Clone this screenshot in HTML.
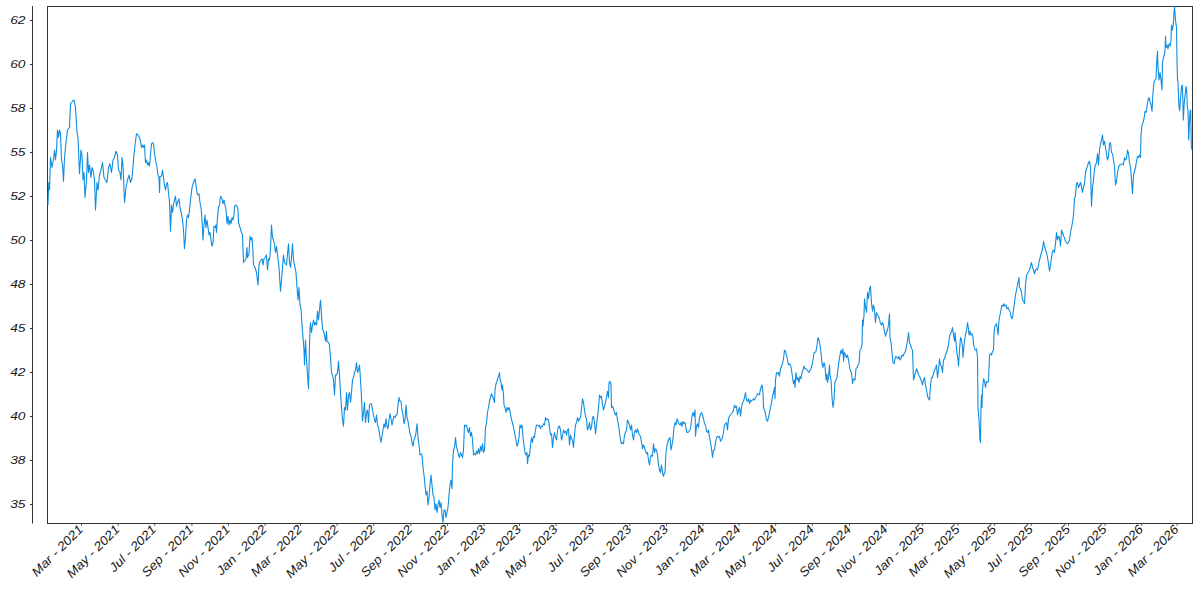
<!DOCTYPE html><html><head><meta charset="utf-8"><style>html,body{margin:0;padding:0;background:#fff;width:1200px;height:600px;overflow:hidden}svg{display:block}text{font-family:"Liberation Sans",sans-serif}</style></head><body><svg width="1200" height="600" viewBox="0 0 1200 600">
<rect width="1200" height="600" fill="#fff"/>
<line x1="32.5" y1="6" x2="32.5" y2="523.5" stroke="#333" stroke-width="1"/>
<rect x="47.5" y="6.5" width="1145" height="517" fill="none" stroke="#333" stroke-width="1"/>
<line x1="30" y1="20.499999999999943" x2="32" y2="20.499999999999943" stroke="#333" stroke-width="1"/>
<text transform="translate(25.5,23.799999999999944) scale(1.2,1)" text-anchor="end" font-style="italic" font-size="11.5" fill="#1a1a1a">62</text>
<line x1="30" y1="64.49999999999994" x2="32" y2="64.49999999999994" stroke="#333" stroke-width="1"/>
<text transform="translate(25.5,67.79999999999994) scale(1.2,1)" text-anchor="end" font-style="italic" font-size="11.5" fill="#1a1a1a">60</text>
<line x1="30" y1="108.49999999999994" x2="32" y2="108.49999999999994" stroke="#333" stroke-width="1"/>
<text transform="translate(25.5,111.79999999999994) scale(1.2,1)" text-anchor="end" font-style="italic" font-size="11.5" fill="#1a1a1a">58</text>
<line x1="30" y1="152.5" x2="32" y2="152.5" stroke="#333" stroke-width="1"/>
<text transform="translate(25.5,155.8) scale(1.2,1)" text-anchor="end" font-style="italic" font-size="11.5" fill="#1a1a1a">55</text>
<line x1="30" y1="196.5" x2="32" y2="196.5" stroke="#333" stroke-width="1"/>
<text transform="translate(25.5,199.8) scale(1.2,1)" text-anchor="end" font-style="italic" font-size="11.5" fill="#1a1a1a">52</text>
<line x1="30" y1="240.5" x2="32" y2="240.5" stroke="#333" stroke-width="1"/>
<text transform="translate(25.5,243.8) scale(1.2,1)" text-anchor="end" font-style="italic" font-size="11.5" fill="#1a1a1a">50</text>
<line x1="30" y1="284.5" x2="32" y2="284.5" stroke="#333" stroke-width="1"/>
<text transform="translate(25.5,287.8) scale(1.2,1)" text-anchor="end" font-style="italic" font-size="11.5" fill="#1a1a1a">48</text>
<line x1="30" y1="328.5" x2="32" y2="328.5" stroke="#333" stroke-width="1"/>
<text transform="translate(25.5,331.8) scale(1.2,1)" text-anchor="end" font-style="italic" font-size="11.5" fill="#1a1a1a">45</text>
<line x1="30" y1="372.5" x2="32" y2="372.5" stroke="#333" stroke-width="1"/>
<text transform="translate(25.5,375.8) scale(1.2,1)" text-anchor="end" font-style="italic" font-size="11.5" fill="#1a1a1a">42</text>
<line x1="30" y1="416.5" x2="32" y2="416.5" stroke="#333" stroke-width="1"/>
<text transform="translate(25.5,419.8) scale(1.2,1)" text-anchor="end" font-style="italic" font-size="11.5" fill="#1a1a1a">40</text>
<line x1="30" y1="460.5" x2="32" y2="460.5" stroke="#333" stroke-width="1"/>
<text transform="translate(25.5,463.8) scale(1.2,1)" text-anchor="end" font-style="italic" font-size="11.5" fill="#1a1a1a">38</text>
<line x1="30" y1="504.5" x2="32" y2="504.5" stroke="#333" stroke-width="1"/>
<text transform="translate(25.5,507.8) scale(1.2,1)" text-anchor="end" font-style="italic" font-size="11.5" fill="#1a1a1a">35</text>
<line x1="81.50" y1="524" x2="81.50" y2="526" stroke="#666" stroke-width="1"/>
<text transform="translate(83.80,530.2) rotate(-45) scale(1.1,1)" text-anchor="end" font-style="italic" font-size="12.5" fill="#1a1a1a">Mar - 2021</text>
<line x1="118.10" y1="524" x2="118.10" y2="526" stroke="#666" stroke-width="1"/>
<text transform="translate(120.40,530.2) rotate(-45) scale(1.1,1)" text-anchor="end" font-style="italic" font-size="12.5" fill="#1a1a1a">May - 2021</text>
<line x1="154.70" y1="524" x2="154.70" y2="526" stroke="#666" stroke-width="1"/>
<text transform="translate(157.00,530.2) rotate(-45) scale(1.1,1)" text-anchor="end" font-style="italic" font-size="12.5" fill="#1a1a1a">Jul - 2021</text>
<line x1="191.90" y1="524" x2="191.90" y2="526" stroke="#666" stroke-width="1"/>
<text transform="translate(194.20,530.2) rotate(-45) scale(1.1,1)" text-anchor="end" font-style="italic" font-size="12.5" fill="#1a1a1a">Sep - 2021</text>
<line x1="228.50" y1="524" x2="228.50" y2="526" stroke="#666" stroke-width="1"/>
<text transform="translate(230.80,530.2) rotate(-45) scale(1.1,1)" text-anchor="end" font-style="italic" font-size="12.5" fill="#1a1a1a">Nov - 2021</text>
<line x1="265.10" y1="524" x2="265.10" y2="526" stroke="#666" stroke-width="1"/>
<text transform="translate(267.40,530.2) rotate(-45) scale(1.1,1)" text-anchor="end" font-style="italic" font-size="12.5" fill="#1a1a1a">Jan - 2022</text>
<line x1="300.50" y1="524" x2="300.50" y2="526" stroke="#666" stroke-width="1"/>
<text transform="translate(302.80,530.2) rotate(-45) scale(1.1,1)" text-anchor="end" font-style="italic" font-size="12.5" fill="#1a1a1a">Mar - 2022</text>
<line x1="337.10" y1="524" x2="337.10" y2="526" stroke="#666" stroke-width="1"/>
<text transform="translate(339.40,530.2) rotate(-45) scale(1.1,1)" text-anchor="end" font-style="italic" font-size="12.5" fill="#1a1a1a">May - 2022</text>
<line x1="373.70" y1="524" x2="373.70" y2="526" stroke="#666" stroke-width="1"/>
<text transform="translate(376.00,530.2) rotate(-45) scale(1.1,1)" text-anchor="end" font-style="italic" font-size="12.5" fill="#1a1a1a">Jul - 2022</text>
<line x1="410.90" y1="524" x2="410.90" y2="526" stroke="#666" stroke-width="1"/>
<text transform="translate(413.20,530.2) rotate(-45) scale(1.1,1)" text-anchor="end" font-style="italic" font-size="12.5" fill="#1a1a1a">Sep - 2022</text>
<line x1="447.50" y1="524" x2="447.50" y2="526" stroke="#666" stroke-width="1"/>
<text transform="translate(449.80,530.2) rotate(-45) scale(1.1,1)" text-anchor="end" font-style="italic" font-size="12.5" fill="#1a1a1a">Nov - 2022</text>
<line x1="484.10" y1="524" x2="484.10" y2="526" stroke="#666" stroke-width="1"/>
<text transform="translate(486.40,530.2) rotate(-45) scale(1.1,1)" text-anchor="end" font-style="italic" font-size="12.5" fill="#1a1a1a">Jan - 2023</text>
<line x1="519.50" y1="524" x2="519.50" y2="526" stroke="#666" stroke-width="1"/>
<text transform="translate(521.80,530.2) rotate(-45) scale(1.1,1)" text-anchor="end" font-style="italic" font-size="12.5" fill="#1a1a1a">Mar - 2023</text>
<line x1="556.10" y1="524" x2="556.10" y2="526" stroke="#666" stroke-width="1"/>
<text transform="translate(558.40,530.2) rotate(-45) scale(1.1,1)" text-anchor="end" font-style="italic" font-size="12.5" fill="#1a1a1a">May - 2023</text>
<line x1="592.70" y1="524" x2="592.70" y2="526" stroke="#666" stroke-width="1"/>
<text transform="translate(595.00,530.2) rotate(-45) scale(1.1,1)" text-anchor="end" font-style="italic" font-size="12.5" fill="#1a1a1a">Jul - 2023</text>
<line x1="629.90" y1="524" x2="629.90" y2="526" stroke="#666" stroke-width="1"/>
<text transform="translate(632.20,530.2) rotate(-45) scale(1.1,1)" text-anchor="end" font-style="italic" font-size="12.5" fill="#1a1a1a">Sep - 2023</text>
<line x1="666.50" y1="524" x2="666.50" y2="526" stroke="#666" stroke-width="1"/>
<text transform="translate(668.80,530.2) rotate(-45) scale(1.1,1)" text-anchor="end" font-style="italic" font-size="12.5" fill="#1a1a1a">Nov - 2023</text>
<line x1="703.10" y1="524" x2="703.10" y2="526" stroke="#666" stroke-width="1"/>
<text transform="translate(705.40,530.2) rotate(-45) scale(1.1,1)" text-anchor="end" font-style="italic" font-size="12.5" fill="#1a1a1a">Jan - 2024</text>
<line x1="739.10" y1="524" x2="739.10" y2="526" stroke="#666" stroke-width="1"/>
<text transform="translate(741.40,530.2) rotate(-45) scale(1.1,1)" text-anchor="end" font-style="italic" font-size="12.5" fill="#1a1a1a">Mar - 2024</text>
<line x1="775.70" y1="524" x2="775.70" y2="526" stroke="#666" stroke-width="1"/>
<text transform="translate(778.00,530.2) rotate(-45) scale(1.1,1)" text-anchor="end" font-style="italic" font-size="12.5" fill="#1a1a1a">May - 2024</text>
<line x1="812.30" y1="524" x2="812.30" y2="526" stroke="#666" stroke-width="1"/>
<text transform="translate(814.60,530.2) rotate(-45) scale(1.1,1)" text-anchor="end" font-style="italic" font-size="12.5" fill="#1a1a1a">Jul - 2024</text>
<line x1="849.50" y1="524" x2="849.50" y2="526" stroke="#666" stroke-width="1"/>
<text transform="translate(851.80,530.2) rotate(-45) scale(1.1,1)" text-anchor="end" font-style="italic" font-size="12.5" fill="#1a1a1a">Sep - 2024</text>
<line x1="886.10" y1="524" x2="886.10" y2="526" stroke="#666" stroke-width="1"/>
<text transform="translate(888.40,530.2) rotate(-45) scale(1.1,1)" text-anchor="end" font-style="italic" font-size="12.5" fill="#1a1a1a">Nov - 2024</text>
<line x1="922.70" y1="524" x2="922.70" y2="526" stroke="#666" stroke-width="1"/>
<text transform="translate(925.00,530.2) rotate(-45) scale(1.1,1)" text-anchor="end" font-style="italic" font-size="12.5" fill="#1a1a1a">Jan - 2025</text>
<line x1="958.10" y1="524" x2="958.10" y2="526" stroke="#666" stroke-width="1"/>
<text transform="translate(960.40,530.2) rotate(-45) scale(1.1,1)" text-anchor="end" font-style="italic" font-size="12.5" fill="#1a1a1a">Mar - 2025</text>
<line x1="994.70" y1="524" x2="994.70" y2="526" stroke="#666" stroke-width="1"/>
<text transform="translate(997.00,530.2) rotate(-45) scale(1.1,1)" text-anchor="end" font-style="italic" font-size="12.5" fill="#1a1a1a">May - 2025</text>
<line x1="1031.30" y1="524" x2="1031.30" y2="526" stroke="#666" stroke-width="1"/>
<text transform="translate(1033.60,530.2) rotate(-45) scale(1.1,1)" text-anchor="end" font-style="italic" font-size="12.5" fill="#1a1a1a">Jul - 2025</text>
<line x1="1068.50" y1="524" x2="1068.50" y2="526" stroke="#666" stroke-width="1"/>
<text transform="translate(1070.80,530.2) rotate(-45) scale(1.1,1)" text-anchor="end" font-style="italic" font-size="12.5" fill="#1a1a1a">Sep - 2025</text>
<line x1="1105.10" y1="524" x2="1105.10" y2="526" stroke="#666" stroke-width="1"/>
<text transform="translate(1107.40,530.2) rotate(-45) scale(1.1,1)" text-anchor="end" font-style="italic" font-size="12.5" fill="#1a1a1a">Nov - 2025</text>
<line x1="1141.70" y1="524" x2="1141.70" y2="526" stroke="#666" stroke-width="1"/>
<text transform="translate(1144.00,530.2) rotate(-45) scale(1.1,1)" text-anchor="end" font-style="italic" font-size="12.5" fill="#1a1a1a">Jan - 2026</text>
<line x1="1177.10" y1="524" x2="1177.10" y2="526" stroke="#666" stroke-width="1"/>
<text transform="translate(1179.40,530.2) rotate(-45) scale(1.1,1)" text-anchor="end" font-style="italic" font-size="12.5" fill="#1a1a1a">Mar - 2026</text>
<polyline points="48.00,205.00 48.75,182.50 49.50,190.00 50.50,157.50 52.00,167.50 53.00,162.50 54.00,155.00 54.50,150.00 55.50,160.00 56.50,150.00 57.50,130.00 58.50,137.50 59.50,130.00 60.50,133.75 61.50,160.00 62.50,165.00 63.50,181.25 64.50,157.50 66.00,142.50 67.50,130.00 69.50,127.50 70.50,103.75 72.50,101.25 74.00,100.00 75.50,107.50 77.00,132.50 78.00,137.50 79.50,173.75 81.00,150.00 82.00,155.00 83.00,180.00 84.00,172.50 85.00,197.50 86.50,180.00 87.50,152.50 88.50,172.50 89.50,165.00 91.00,177.50 92.00,167.50 93.50,172.50 94.50,180.00 95.50,210.00 97.00,182.50 98.00,190.00 99.50,175.00 101.00,170.00 102.50,162.50 104.00,177.50 105.50,180.00 107.00,182.50 108.50,167.50 110.00,163.75 111.50,172.50 113.00,160.00 114.50,157.50 116.00,151.25 117.50,155.00 118.50,170.00 120.00,172.50 121.00,180.00 122.00,157.50 123.00,165.00 124.50,202.50 126.00,187.50 127.50,180.00 129.00,175.00 130.50,182.50 132.00,177.50 133.50,160.00 135.00,145.00 136.50,133.75 138.00,135.00 139.50,137.50 140.50,141.25 141.50,147.50 142.50,145.00 143.50,147.50 144.50,145.00 145.50,162.50 146.50,160.00 147.50,165.00 148.50,162.50 149.50,166.25 150.50,155.00 151.50,143.75 152.50,142.50 153.50,143.75 154.50,153.75 155.50,160.00 157.00,167.50 158.00,175.00 159.00,177.50 159.50,192.50 160.00,176.25 161.50,176.25 162.50,170.00 163.50,177.50 164.50,185.00 165.50,190.00 166.50,183.75 167.50,182.50 168.50,192.50 169.50,202.50 170.50,231.25 171.50,205.00 172.50,212.50 173.50,205.00 174.50,200.00 175.50,196.25 176.50,206.25 177.50,202.50 179.00,198.75 180.00,207.50 181.50,213.75 182.50,220.00 183.50,230.00 184.50,248.75 185.50,237.50 186.50,220.00 187.50,215.00 188.50,217.50 189.50,210.00 190.50,200.00 192.00,187.50 193.50,182.50 195.00,178.75 196.00,185.00 197.00,192.50 198.00,195.00 199.00,193.75 200.00,202.50 201.00,207.50 202.00,220.00 203.00,240.00 204.00,225.00 205.00,215.00 206.00,227.50 207.00,220.00 208.00,227.50 209.00,235.00 210.00,232.50 211.00,240.00 212.00,246.25 213.00,242.50 214.00,226.25 215.00,227.50 216.00,225.00 216.50,232.50 217.50,217.50 218.50,207.50 219.50,205.00 220.50,196.25 222.00,198.75 223.00,203.75 224.00,200.00 225.00,205.00 226.00,210.00 227.00,223.75 228.00,216.25 229.00,225.00 230.00,220.00 231.00,223.75 232.00,217.50 233.00,220.00 234.00,215.00 234.50,206.25 235.50,205.00 237.00,206.25 238.00,210.00 238.50,222.50 240.00,227.50 241.50,232.50 242.50,235.00 243.50,262.50 244.50,261.25 246.00,258.75 247.00,247.50 247.50,257.50 249.00,253.75 250.00,236.25 251.00,240.00 252.00,237.50 253.00,252.50 253.50,265.00 255.00,267.50 256.50,272.50 258.00,285.00 259.00,265.00 260.00,261.25 261.00,260.00 262.00,258.75 263.00,265.00 264.00,258.75 265.00,257.50 266.50,255.00 267.50,270.00 268.50,258.75 269.50,260.00 270.50,248.75 271.50,225.00 272.50,237.50 273.50,240.00 274.50,245.00 275.50,252.50 276.50,246.25 277.50,255.00 279.00,267.50 280.50,291.25 281.50,280.00 282.50,267.50 283.50,255.00 284.50,262.50 285.50,263.75 286.50,265.00 287.50,253.75 288.50,243.75 289.50,262.50 290.50,267.50 291.50,257.50 292.50,243.75 293.50,260.00 294.50,265.00 296.00,272.50 297.00,287.50 298.00,300.00 299.00,287.50 300.00,305.00 301.00,308.75 302.00,325.00 303.00,337.50 304.00,350.00 304.50,365.00 305.50,340.00 306.50,360.00 307.50,375.00 308.50,388.75 309.50,345.00 310.00,330.00 310.50,322.50 311.50,332.50 312.50,325.00 313.50,320.00 314.50,325.00 315.50,322.50 316.50,325.00 317.50,311.25 318.50,320.00 319.50,310.00 320.50,300.00 321.50,315.00 322.50,328.75 323.50,331.25 324.50,335.00 325.50,341.25 326.50,331.25 327.00,341.25 328.50,342.50 329.50,345.00 330.50,357.50 331.50,372.50 332.50,375.00 333.50,380.00 334.50,395.00 335.50,375.00 336.50,375.00 337.50,372.50 338.50,361.25 339.50,375.00 340.50,392.50 341.50,407.50 342.50,420.00 343.50,426.25 344.50,407.50 345.50,410.00 346.50,392.50 347.50,410.00 348.50,395.00 349.50,392.50 350.50,402.50 351.50,392.50 352.50,380.00 353.50,377.50 354.50,372.50 355.50,370.00 356.50,362.50 357.50,372.50 358.50,370.00 359.50,365.00 360.50,380.00 361.50,397.50 362.50,421.25 363.50,412.50 364.50,402.50 365.50,422.50 366.50,412.50 367.50,410.00 368.50,422.50 369.50,405.00 370.50,403.75 371.50,403.75 372.50,410.00 373.50,415.00 374.50,420.00 375.50,422.50 376.50,415.00 377.50,425.00 378.50,427.50 379.50,433.75 380.00,437.50 381.00,442.50 382.00,436.25 383.00,430.00 384.00,423.75 385.00,427.50 386.00,418.75 387.00,426.25 388.00,428.75 389.00,420.00 390.00,413.75 391.00,418.75 392.00,425.00 393.00,420.00 394.00,416.25 395.00,417.50 396.00,415.00 397.00,415.00 398.00,405.00 399.00,397.50 400.00,401.25 401.00,401.25 402.00,410.00 403.00,415.00 404.00,423.75 405.00,420.00 406.00,405.00 407.00,417.50 408.00,421.25 409.00,427.50 410.00,433.75 411.00,436.25 412.00,442.50 413.00,446.25 414.00,440.00 415.00,437.50 416.00,432.50 417.00,423.75 418.00,437.50 419.00,445.00 420.00,455.00 421.00,453.75 422.00,455.00 423.00,467.50 424.00,475.00 425.00,485.00 426.00,495.00 427.00,491.25 428.00,505.00 429.00,497.50 430.00,485.00 431.00,475.00 432.00,485.00 433.00,495.00 434.00,497.50 435.00,510.00 436.00,503.75 437.00,512.50 438.00,505.00 439.00,500.00 440.00,507.50 441.00,502.50 442.00,515.00 443.00,522.50 444.00,510.00 445.00,510.00 446.00,517.50 447.00,512.50 448.00,507.50 449.00,495.00 450.00,485.00 451.00,480.00 452.00,488.75 452.50,465.00 453.50,450.00 454.50,447.50 455.50,437.50 456.50,447.50 457.50,450.00 458.50,455.00 459.50,457.50 460.50,452.50 461.50,455.00 462.50,457.50 463.50,450.00 464.50,425.00 465.50,426.25 466.50,425.00 467.50,430.00 468.50,432.50 469.50,427.50 470.50,436.25 471.50,432.50 472.50,440.00 473.50,455.00 474.50,453.75 475.50,455.00 476.50,451.25 477.50,453.75 478.50,448.75 479.50,453.75 480.50,446.25 481.50,451.25 482.50,443.75 483.50,452.50 484.50,450.00 485.50,427.50 486.50,422.50 487.50,412.50 488.50,407.50 489.50,401.25 490.50,397.50 491.50,393.75 492.50,396.25 493.50,398.75 494.50,402.50 495.00,390.00 496.00,383.75 497.00,381.25 498.00,377.50 499.00,375.00 499.50,372.50 500.00,378.75 501.00,382.50 502.00,390.00 502.50,385.00 503.50,395.00 504.00,405.00 505.00,407.50 506.00,412.50 507.00,407.50 508.00,410.00 509.00,407.50 510.00,411.25 511.00,417.50 512.00,421.25 513.00,425.00 514.00,430.00 515.00,435.00 516.00,440.00 517.00,446.25 518.00,443.75 519.00,437.50 520.00,425.00 521.00,427.50 522.00,425.00 523.00,437.50 524.00,445.00 525.00,452.50 526.00,455.00 527.00,452.50 527.50,463.75 528.50,455.00 529.50,456.25 530.50,445.00 531.50,437.50 532.50,442.50 533.50,436.25 534.50,437.50 535.50,430.00 536.50,425.00 537.50,425.00 538.50,426.25 539.50,425.00 540.50,428.75 541.50,426.25 542.50,426.25 543.50,423.75 544.50,425.00 545.50,417.50 546.50,420.00 547.50,418.75 548.50,420.00 549.50,427.50 550.50,435.00 551.50,433.75 552.50,447.50 553.50,437.50 554.50,432.50 555.50,437.50 556.50,440.00 557.50,431.25 558.50,426.25 559.50,426.25 560.50,430.00 561.50,440.00 562.50,436.25 563.50,430.00 564.50,432.50 565.50,431.25 566.50,435.00 567.50,430.00 568.50,428.75 569.50,445.00 570.50,435.00 571.50,438.75 572.50,440.00 573.50,447.50 574.50,435.00 575.50,425.00 576.50,422.50 577.50,417.50 578.50,421.25 579.50,418.75 580.50,417.50 581.50,408.75 582.50,398.75 583.50,402.50 584.50,410.00 585.50,416.25 586.50,418.75 587.50,430.00 588.50,427.50 589.50,422.50 590.50,430.00 591.50,427.50 592.50,417.50 593.50,416.25 594.50,422.50 595.50,433.75 596.50,425.00 597.50,417.50 598.50,407.50 599.50,395.00 600.50,397.50 601.50,396.25 602.50,405.00 603.50,410.00 604.50,406.25 605.50,402.50 606.50,397.50 607.50,391.25 608.50,397.50 609.00,382.50 610.00,381.25 611.00,385.00 611.50,407.50 612.50,406.25 613.50,408.75 614.50,412.50 615.50,415.00 616.50,412.50 617.50,420.00 618.50,425.00 619.50,432.50 620.50,440.00 621.50,443.75 622.50,442.50 623.50,443.75 624.50,435.00 625.50,432.50 626.50,430.00 627.50,420.00 628.50,422.50 629.50,425.00 630.50,430.00 631.50,425.00 632.50,435.00 633.50,440.00 634.50,432.50 635.50,430.00 636.50,432.50 637.50,428.75 638.50,432.50 639.50,435.00 640.50,436.25 641.50,442.50 642.50,448.75 643.50,445.00 644.50,447.50 645.50,451.25 646.50,453.75 647.50,452.50 648.50,460.00 649.50,465.00 650.50,457.50 651.50,455.00 652.50,456.25 653.50,443.75 654.50,452.50 655.50,448.75 656.50,450.00 657.50,455.00 658.50,465.00 659.50,470.00 660.50,472.50 661.50,465.00 662.50,472.50 663.50,476.25 664.50,472.50 665.00,472.50 666.00,452.50 667.00,445.00 668.00,441.25 669.00,438.75 670.00,437.50 671.00,450.00 672.00,445.00 673.00,438.75 674.00,427.50 675.00,422.50 676.00,425.00 677.00,418.75 678.00,421.25 679.00,423.75 680.00,425.00 681.00,422.50 682.00,426.25 683.00,421.25 684.00,423.75 685.00,422.50 686.00,428.75 687.00,432.50 688.00,432.50 689.00,431.25 690.00,430.00 691.00,425.00 692.00,416.25 693.00,412.50 694.00,416.25 695.00,410.00 695.50,436.25 696.50,426.25 697.50,423.75 698.50,427.50 699.50,417.50 700.50,413.75 701.50,412.50 702.50,415.00 703.50,418.75 704.50,423.75 705.50,425.00 706.50,431.25 707.50,432.50 708.50,430.00 709.50,437.50 710.50,442.50 711.50,448.75 712.50,457.50 713.50,450.00 714.50,450.00 715.50,442.50 716.50,437.50 717.50,436.25 718.50,437.50 719.50,436.25 720.50,441.25 721.50,440.00 722.50,437.50 723.50,432.50 724.50,425.00 725.50,423.75 726.50,422.50 727.50,430.00 728.50,418.75 729.50,416.25 730.50,415.00 731.50,413.75 732.50,412.50 733.50,410.00 734.50,405.00 735.50,407.50 736.50,406.25 737.50,415.00 738.50,410.00 739.50,407.50 740.50,416.25 741.50,407.50 742.50,402.50 743.50,401.25 744.50,397.50 745.50,392.50 746.50,400.00 747.50,401.25 748.50,398.75 749.50,403.75 750.50,400.00 751.50,401.25 752.50,400.00 753.50,398.75 754.50,400.00 755.50,397.50 756.50,396.25 757.50,393.75 758.50,393.75 759.50,395.00 760.00,391.25 761.00,387.50 762.00,385.00 763.00,392.50 763.50,407.50 764.50,410.00 765.50,413.75 766.50,420.00 767.50,421.25 768.50,417.50 769.50,412.50 770.50,407.50 771.50,402.50 772.50,396.25 773.50,392.50 774.50,387.50 775.00,398.75 775.50,380.00 776.50,372.50 777.50,373.75 778.50,372.50 779.50,376.25 780.50,368.75 781.50,366.25 782.50,363.75 783.50,358.75 784.50,350.00 785.50,351.25 786.50,355.00 787.50,360.00 788.50,365.00 789.50,363.75 790.50,365.00 791.50,370.00 792.50,377.50 793.50,383.75 794.50,380.00 795.00,387.50 796.00,372.50 797.00,380.00 798.00,377.50 799.00,382.50 800.00,376.25 801.00,378.75 802.00,372.50 803.00,370.00 804.00,366.25 805.00,368.75 806.00,368.75 807.00,370.00 808.00,371.25 809.00,372.50 810.00,370.00 811.00,368.75 812.00,365.00 813.00,360.00 814.00,352.50 815.00,352.50 816.00,351.25 817.00,345.00 818.00,337.50 819.00,340.00 820.00,345.00 821.00,352.50 822.00,363.75 823.00,367.50 824.00,362.50 825.00,366.25 826.00,380.00 827.00,373.75 827.50,382.50 828.50,377.50 829.50,365.00 830.00,375.00 831.00,380.00 832.00,397.50 833.00,407.50 834.00,400.00 835.00,381.25 836.00,380.00 837.00,377.50 838.00,368.75 839.00,361.25 840.00,355.00 841.00,350.00 842.00,353.75 843.00,348.75 843.50,361.25 844.50,352.50 845.50,355.00 846.50,357.50 847.50,355.00 848.50,360.00 849.50,366.25 850.50,371.25 851.50,372.50 852.50,383.75 853.50,378.75 854.50,380.00 855.00,380.00 856.00,368.75 857.00,367.50 858.00,365.00 859.00,363.75 860.00,350.00 861.00,348.75 862.00,345.00 862.50,320.00 863.00,326.25 864.00,315.00 864.50,298.75 865.50,307.50 866.50,312.50 867.50,292.50 868.50,298.75 869.50,288.75 870.50,286.25 871.50,302.50 872.50,311.25 873.50,305.00 874.50,310.00 875.50,322.50 876.50,312.50 877.50,315.00 878.50,316.25 879.50,318.75 880.50,323.75 881.50,325.00 882.50,322.50 883.50,326.25 884.50,331.25 885.50,336.25 886.50,332.50 887.50,330.00 888.50,325.00 889.50,313.75 890.00,337.50 891.00,342.50 892.00,352.50 893.00,362.50 894.00,363.75 895.00,358.75 896.00,356.25 897.00,357.50 898.00,358.75 899.00,356.25 900.00,360.00 901.00,358.75 902.00,355.00 903.00,356.25 904.00,353.75 905.00,352.50 906.00,348.75 907.00,343.75 908.00,337.50 908.50,332.50 909.50,342.50 910.50,345.00 911.50,348.75 912.50,350.00 913.50,380.00 914.50,376.25 915.50,372.50 916.50,368.75 917.50,371.25 918.50,375.00 919.50,376.25 920.50,378.75 921.50,381.25 922.50,385.00 923.50,380.00 924.50,377.50 925.50,385.00 926.50,390.00 927.50,396.25 928.50,398.75 929.50,400.00 930.50,385.00 931.50,377.50 932.50,377.50 933.50,373.75 934.50,370.00 935.50,368.75 936.50,365.00 937.50,377.50 938.50,370.00 939.50,358.75 940.50,365.00 941.50,366.25 942.50,372.50 943.50,360.00 944.50,358.75 945.50,355.00 946.50,352.50 947.50,348.75 948.50,345.00 949.50,336.25 950.00,335.00 951.00,332.50 952.00,330.00 952.50,327.50 953.50,335.00 954.50,341.25 955.00,332.50 956.00,342.50 957.00,353.75 958.00,360.00 958.50,366.25 959.50,350.00 960.50,337.50 961.50,340.00 962.50,347.50 963.00,357.50 964.00,345.00 965.00,337.50 966.00,332.50 967.00,327.50 967.50,322.50 968.50,328.75 969.00,335.00 970.00,331.25 971.00,335.00 972.00,333.75 973.00,337.50 973.50,343.75 974.50,348.75 975.50,350.00 976.50,348.75 977.50,357.50 978.00,407.50 979.00,420.00 980.00,440.00 980.50,442.50 981.00,407.50 981.50,395.00 982.00,407.50 982.50,390.00 983.50,378.75 984.50,381.25 985.50,387.50 986.50,381.25 987.50,382.50 988.50,381.25 989.50,355.00 990.50,353.75 991.50,355.00 992.50,351.25 993.50,350.00 994.00,335.00 994.50,327.50 995.50,325.00 996.50,323.75 997.50,330.00 998.00,335.00 999.00,320.00 1000.00,315.00 1001.00,310.00 1002.00,305.00 1003.00,306.25 1004.00,303.75 1005.00,306.25 1006.00,305.00 1007.00,308.75 1008.00,307.50 1009.00,310.00 1010.00,311.25 1011.00,316.25 1012.00,318.75 1012.50,317.50 1013.50,310.00 1014.50,302.50 1015.50,295.00 1016.50,290.00 1017.50,285.00 1018.50,280.00 1019.00,277.50 1019.50,287.50 1020.50,288.75 1021.50,292.50 1022.50,300.00 1023.50,301.25 1024.50,303.75 1025.50,285.00 1026.50,275.00 1027.50,273.75 1028.50,271.25 1029.50,270.00 1030.50,266.25 1031.50,262.50 1032.50,267.50 1033.50,270.00 1034.50,273.75 1035.50,270.00 1036.50,268.75 1037.50,270.00 1038.50,265.00 1039.50,260.00 1040.50,256.25 1041.50,252.50 1042.50,248.75 1043.50,241.25 1044.50,246.25 1045.50,250.00 1046.50,252.50 1047.50,257.50 1048.50,263.75 1049.50,271.25 1050.50,265.00 1051.50,257.50 1052.50,251.25 1053.50,250.00 1054.50,252.50 1055.50,243.75 1056.50,232.50 1057.50,240.00 1058.50,236.25 1059.50,237.50 1060.50,246.25 1061.50,230.00 1062.50,232.50 1063.50,236.25 1064.50,237.50 1065.50,241.25 1066.50,242.50 1067.50,243.75 1068.50,242.50 1069.50,240.00 1070.50,232.50 1071.50,227.50 1072.50,222.50 1073.50,215.00 1074.50,198.75 1075.50,195.00 1076.50,183.75 1077.50,182.50 1078.50,187.50 1079.50,185.00 1080.50,182.50 1081.50,186.25 1082.50,192.50 1083.50,187.50 1084.50,183.75 1085.50,172.50 1086.50,168.75 1087.50,166.25 1088.50,162.50 1089.50,161.25 1090.50,167.50 1091.50,206.25 1092.50,187.50 1093.50,180.00 1094.50,168.75 1095.50,165.00 1096.50,162.50 1097.50,153.75 1098.50,165.00 1099.50,150.00 1100.50,143.75 1101.50,140.00 1102.50,135.00 1103.50,145.00 1104.50,141.25 1105.50,147.50 1106.50,153.75 1107.50,160.00 1108.50,156.25 1109.50,143.75 1110.50,142.50 1111.50,152.50 1112.50,153.75 1113.50,160.00 1114.50,167.50 1115.50,185.00 1116.50,181.25 1117.50,172.50 1118.50,167.50 1119.50,165.00 1120.50,165.00 1121.50,163.75 1122.50,163.75 1123.50,165.00 1124.50,157.50 1125.50,160.00 1126.50,158.75 1127.50,150.00 1128.50,153.75 1129.50,162.50 1130.50,167.50 1131.50,180.00 1132.50,193.75 1133.50,175.00 1134.50,171.25 1135.50,167.50 1136.50,161.25 1137.50,156.25 1138.50,157.50 1139.50,155.00 1140.50,157.50 1141.00,135.00 1142.00,125.00 1143.00,122.50 1144.00,118.75 1145.00,111.25 1146.00,112.50 1147.00,106.25 1148.00,100.00 1149.00,97.50 1150.00,101.25 1151.00,105.00 1152.00,111.25 1153.00,92.50 1154.00,82.50 1155.00,80.00 1156.00,78.75 1157.00,57.50 1157.50,51.25 1158.00,67.50 1159.00,80.00 1160.00,72.50 1161.00,80.00 1162.00,90.00 1162.50,62.50 1163.50,57.50 1164.50,53.75 1165.00,51.25 1165.50,36.25 1166.00,47.50 1167.00,45.00 1168.00,48.75 1169.00,43.75 1170.00,46.25 1171.00,40.00 1171.50,25.00 1172.50,30.00 1173.50,22.50 1174.00,12.50 1174.50,6.50 1175.50,20.00 1176.50,27.50 1177.00,60.00 1177.50,80.00 1178.00,81.67 1178.33,91.67 1179.00,106.67 1179.67,110.83 1180.33,100.00 1181.00,93.33 1181.67,86.67 1182.33,85.00 1182.67,93.33 1183.33,120.00 1184.00,106.67 1184.67,98.33 1185.33,93.33 1186.00,86.67 1186.67,90.00 1187.33,106.67 1188.00,110.00 1188.67,140.00 1189.33,125.00 1190.00,111.67 1190.67,110.00 1191.33,146.67 1192.00,150.00" fill="none" stroke="#118de0" stroke-width="1.1" stroke-linejoin="round"/>
</svg></body></html>
